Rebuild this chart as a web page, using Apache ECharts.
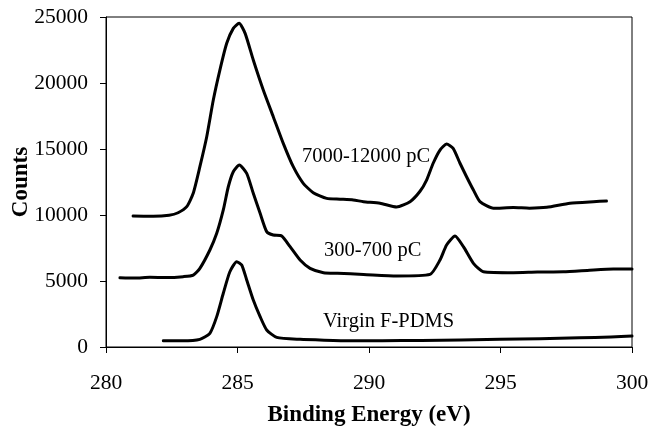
<!DOCTYPE html>
<html>
<head>
<meta charset="utf-8">
<script src="https://cdn.jsdelivr.net/npm/echarts@6/dist/echarts.min.js"></script>
<style>html,body{margin:0;padding:0;background:#fff;}#c{width:650px;height:427px;}</style>
</head>
<body>
<div id="c"></div>
<script>
// Binding energy (eV) and counts
var highEnergy = [281.03, 281.8, 282.4, 282.74, 283.07, 283.32, 283.57, 283.83, 284.08, 284.33, 284.59, 284.84, 285.06, 285.29, 285.6, 285.98, 286.36, 286.74, 287.12, 287.5, 287.88, 288.39, 288.9, 289.4, 289.79, 290.42, 291.05, 291.56, 291.94, 292.19, 292.44, 292.7, 292.95, 293.2, 293.46, 293.71, 293.97, 294.22, 294.73, 295.49, 296.1, 296.76, 297.64, 298.53, 299.03];
var highCounts = [9920, 9900, 9980, 10170, 10630, 11670, 13660, 15930, 18710, 20980, 23010, 24140, 24520, 23760, 21740, 19470, 17450, 15430, 13660, 12400, 11690, 11260, 11200, 11140, 11010, 10890, 10600, 11010, 11800, 12650, 13920, 14920, 15380, 15050, 13920, 12900, 11890, 11010, 10510, 10560, 10520, 10580, 10890, 11010, 11060];

var midEnergy = [280.53, 281.1, 281.67, 282.3, 282.94, 283.32, 283.57, 283.95, 284.21, 284.46, 284.65, 284.84, 285.07, 285.35, 285.6, 285.86, 286.11, 286.36, 286.68, 287.0, 287.38, 287.76, 288.27, 288.8, 289.79, 291.05, 292.32, 292.7, 292.95, 293.27, 293.59, 293.97, 294.35, 295.49, 296.4, 297.39, 298.3, 299.29, 300.0];
var midCounts = [5250, 5220, 5280, 5260, 5330, 5450, 5960, 7350, 8610, 10380, 12140, 13280, 13790, 13150, 11640, 10130, 8740, 8480, 8410, 7600, 6590, 5960, 5630, 5580, 5500, 5380, 5500, 6590, 7730, 8410, 7600, 6340, 5700, 5630, 5680, 5700, 5800, 5910, 5910];

var virginEnergy = [282.18, 282.9, 283.57, 283.95, 284.21, 284.46, 284.71, 284.97, 285.16, 285.35, 285.6, 285.86, 286.11, 286.49, 287.38, 288.3, 289.28, 290.5, 292.0, 294.98, 296.5, 298.0, 299.2, 300.0];
var virginCounts = [480, 470, 580, 1040, 2300, 4070, 5700, 6460, 6210, 5080, 3560, 2300, 1290, 730, 580, 520, 480, 480, 500, 580, 620, 700, 760, 830];

var seriesNames = ['7000-12000 pC', '300-700 pC', 'Virgin F-PDMS'];
var xTicks = [280, 285, 290, 295, 300];
var yTicks = [0, 5000, 10000, 15000, 20000, 25000];

function pairs(xs, ys) { return xs.map(function (x, i) { return [x, ys[i]]; }); }

var font = '"Liberation Serif", "Times New Roman", serif';
var chart = echarts.init(document.getElementById('c'), null, {renderer: 'canvas'});
var lineStyle = {color: '#000', width: 3, join: 'round', cap: 'round'};
chart.setOption({
  animation: false,
  backgroundColor: '#fff',
  grid: {left: 106, right: 18, top: 17, bottom: 80, containLabel: false, outerBoundsMode: 'none',
         show: true, borderColor: '#000', borderWidth: 1, backgroundColor: 'transparent'},
  xAxis: {
    type: 'value', min: xTicks[0], max: xTicks[xTicks.length - 1], interval: 5,
    name: 'Binding Energy (eV)', nameLocation: 'middle', nameGap: 57,
    nameTextStyle: {fontFamily: font, fontSize: 23, fontWeight: 'bold', color: '#000'},
    axisLine: {lineStyle: {color: '#000', width: 1}},
    axisTick: {show: true, inside: false, length: 6, lineStyle: {color: '#000'}},
    axisLabel: {fontFamily: font, fontSize: 21.5, color: '#000', margin: 25, formatter: function (v) { return String(v); }},
    splitLine: {show: false}
  },
  yAxis: {
    type: 'value', min: yTicks[0], max: yTicks[yTicks.length - 1], interval: 5000,
    name: 'Counts', nameLocation: 'middle', nameGap: 73, nameRotate: 90, nameMoveOverlap: false,
    nameTextStyle: {fontFamily: font, fontSize: 23, fontWeight: 'bold', color: '#000'},
    axisLine: {show: true, lineStyle: {color: '#000', width: 1}},
    axisTick: {show: true, inside: false, length: 6, lineStyle: {color: '#000'}},
    axisLabel: {fontFamily: font, fontSize: 21.5, color: '#000', margin: 18, formatter: function (v) { return String(v); }},
    splitLine: {show: false}
  },
  series: [
    {name: seriesNames[0], type: 'line', data: pairs(highEnergy, highCounts), showSymbol: false, lineStyle: lineStyle, smooth: 0.2},
    {name: seriesNames[1], type: 'line', data: pairs(midEnergy, midCounts), showSymbol: false, lineStyle: lineStyle, smooth: 0.2},
    {name: seriesNames[2], type: 'line', data: pairs(virginEnergy, virginCounts), showSymbol: false, lineStyle: lineStyle, smooth: 0.2}
  ],
  graphic: [
    {type: 'text', left: 302, top: 146, style: {text: seriesNames[0], font: '20.5px ' + font, fill: '#000'}},
    {type: 'text', left: 324, top: 240, style: {text: seriesNames[1], font: '20.5px ' + font, fill: '#000'}},
    {type: 'text', left: 323, top: 311, style: {text: seriesNames[2], font: '20.5px ' + font, fill: '#000'}}
  ]
});
</script>
</body>
</html>
